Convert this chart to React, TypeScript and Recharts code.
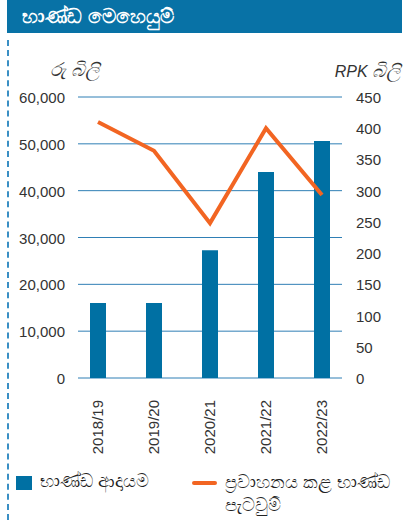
import { ComposedChart, Bar, Line, XAxis, YAxis, CartesianGrid } from "recharts"

const years = ["2018/19", "2019/20", "2020/21", "2021/22", "2022/23"]
const cargoRevenue = [16000, 16000, 27300, 44000, 50600]
const cargoRpk = [410, 364, 248, 400, 293]
const leftTicks = [0, 10000, 20000, 30000, 40000, 50000, 60000]
const rightTicks = [0, 50, 100, 150, 200, 250, 300, 350, 400, 450]

const data = years.map((year, i) => ({ year, revenue: cargoRevenue[i], rpk: cargoRpk[i] }))

const BLUE = "#0070a3"
const ORANGE = "#f26522"
const FONT = "'Liberation Sans', Arial, 'Noto Sans', sans-serif"

const LeftTick = (props: any) => {
  const { x, y, payload } = props
  return (
    <text x={x + 3} y={y} dy="0.4em" textAnchor="end" fontSize={15} fill="#333" fontFamily={FONT}>
      {payload.value.toLocaleString("en-US")}
    </text>
  )
}

const RightTick = (props: any) => {
  const { x, y, payload } = props
  return (
    <text x={x - 2} y={y} dy="0.4em" textAnchor="start" fontSize={15} fill="#333" fontFamily={FONT}>
      {payload.value}
    </text>
  )
}

const YearTick = (props: any) => {
  const { x, y, payload } = props
  return (
    <text
      transform={`translate(${x},${y + 14}) rotate(-90)`}
      dy="0.35em"
      textAnchor="end"
      fontSize={15}
      fill="#333"
      fontFamily={FONT}
    >
      {payload.value}
    </text>
  )
}

const gridLine = (props: any) => (
  <line
    key={props.key ?? props.index}
    x1={props.x1 + 8}
    x2={props.x2 - 8}
    y1={props.y1}
    y2={props.y2}
    stroke="#2f7fb5"
    strokeWidth={1}
  />
)

export default function App() {
  return (
    <div style={{ position: "absolute", left: 0, top: 0, width: 404, height: 523, background: "#fff", fontFamily: FONT }}>
      <div
        style={{
          position: "absolute",
          left: 7,
          top: 0,
          width: 395,
          height: 33,
          background: "#0872a6",
          color: "#fff",
          fontWeight: "bold",
          fontSize: 20,
          lineHeight: "33px",
          paddingLeft: 15,
          boxSizing: "border-box",
        }}
      >
        භාණ්ඩ මෙහෙයුම්
      </div>
      <div
        style={{
          position: "absolute",
          left: 7,
          top: 40,
          width: 0,
          height: 480,
          borderLeft: "2px dashed #3a8fc4",
        }}
      />
      <div style={{ position: "absolute", left: 50, top: 59, fontSize: 19, fontStyle: "italic", color: "#333" }}>
        රු බිලි
      </div>
      <div style={{ position: "absolute", right: 4, top: 60, fontSize: 16, fontStyle: "italic", color: "#333" }}>
        RPK <span style={{ fontSize: 19 }}>බිලි</span>
      </div>

      <div style={{ position: "absolute", left: 0, top: 0 }}>
        <ComposedChart width={404} height={460} data={data} margin={{ top: 97, right: 0, left: 0, bottom: 2 }}>
          <CartesianGrid yAxisId="left" vertical={false} horizontal={gridLine} />
          <XAxis dataKey="year" height={80} axisLine={false} tickLine={false} tick={<YearTick />} interval={0} />
          <YAxis
            yAxisId="left"
            orientation="left"
            width={70}
            domain={[0, 60000]}
            ticks={leftTicks}
            axisLine={false}
            tickLine={false}
            tick={<LeftTick />}
          />
          <YAxis
            yAxisId="right"
            orientation="right"
            width={54}
            domain={[0, 450]}
            ticks={rightTicks}
            axisLine={false}
            tickLine={false}
            tick={<RightTick />}
          />
          <Bar yAxisId="left" dataKey="revenue" fill={BLUE} barSize={16} isAnimationActive={false} />
          <Line
            yAxisId="right"
            dataKey="rpk"
            type="linear"
            stroke={ORANGE}
            strokeWidth={4}
            dot={false}
            isAnimationActive={false}
          />
        </ComposedChart>
      </div>

      <div style={{ position: "absolute", left: 16, top: 476, width: 16, height: 14, background: BLUE }} />
      <div style={{ position: "absolute", left: 40, top: 471, fontSize: 18, color: "#222" }}>භාණ්ඩ ආදායම</div>
      <div style={{ position: "absolute", left: 192, top: 481, width: 25, height: 4, borderRadius: 2, background: ORANGE }} />
      <div style={{ position: "absolute", left: 225, top: 471, width: 179, fontSize: 18, lineHeight: "23px", color: "#222" }}>
        ප්‍රවාහනය කළ භාණ්ඩ
        <br />
        පැටවුම්
      </div>
    </div>
  )
}
